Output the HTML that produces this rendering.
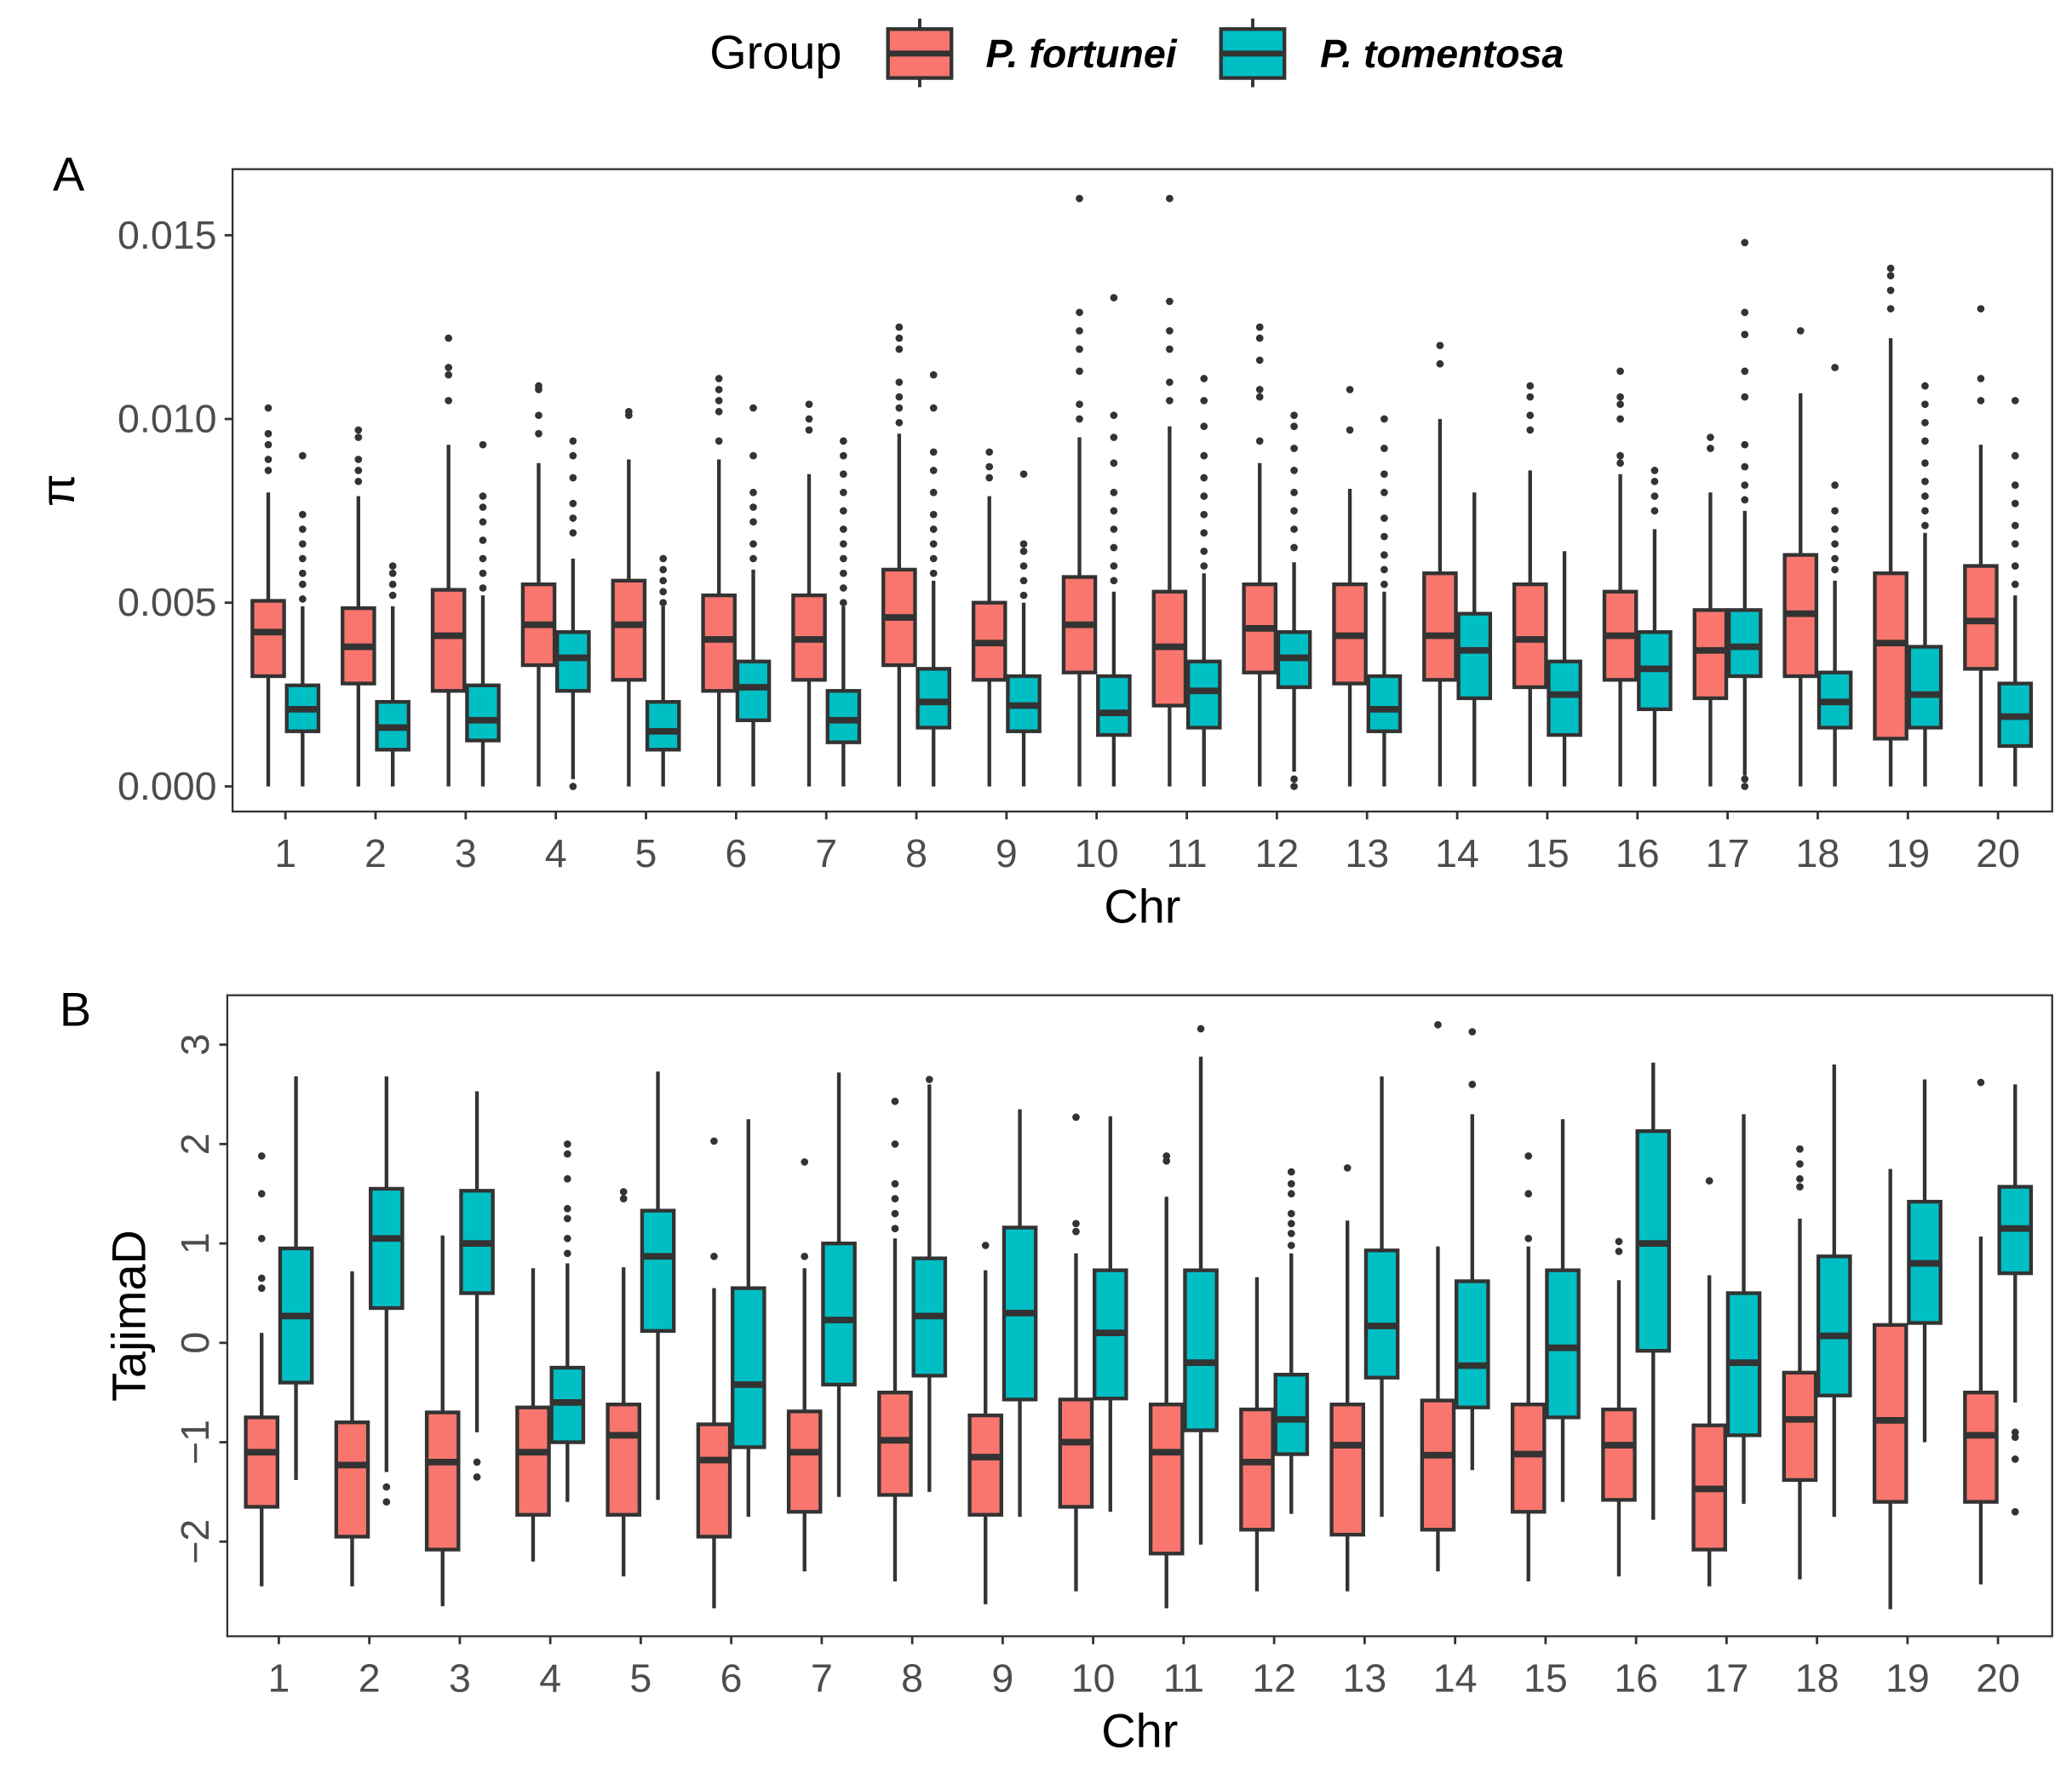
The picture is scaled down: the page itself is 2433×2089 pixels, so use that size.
<!DOCTYPE html>
<html><head><meta charset="utf-8">
<style>
html,body{margin:0;padding:0;background:#fff;}
svg{display:block;}
text{font-family:"Liberation Sans",sans-serif;}
</style></head>
<body>
<svg id="chart" width="2433" height="2089" viewBox="0 0 1568 1346" preserveAspectRatio="none" xmlns="http://www.w3.org/2000/svg">
  <g id="legend">
    <text x="537" y="52" font-size="36" fill="#000">Group</text>
    <g>
      <line x1="696" y1="14" x2="696" y2="66" stroke="#333" stroke-width="2.5"/>
      <rect x="672" y="22" width="48" height="37" fill="#F8766D" stroke="#333" stroke-width="2.8"/>
      <line x1="672" y1="40.5" x2="720" y2="40.5" stroke="#333" stroke-width="4.5"/>
      <text x="746" y="51" font-size="30" font-weight="bold" font-style="italic" fill="#000">P. fortunei</text>
    </g>
    <g>
      <line x1="948" y1="14" x2="948" y2="66" stroke="#333" stroke-width="2.5"/>
      <rect x="924" y="22" width="48" height="37" fill="#00BFC4" stroke="#333" stroke-width="2.8"/>
      <line x1="924" y1="40.5" x2="972" y2="40.5" stroke="#333" stroke-width="4.5"/>
      <text x="999" y="51" font-size="30" font-weight="bold" font-style="italic" fill="#000">P. tomentosa</text>
    </g>
  </g>
  <text x="40" y="144" font-size="36">A</text>
  <text x="45" y="776" font-size="36">B</text>
  <g id="panelA"></g>
  <g id="panelB"></g>
</svg>
<script>
// ---- Panel A data (pi x 0.001) : [q1, median, q3, lowWhisker, highWhisker]
const chrLabels = ["1","2","3","4","5","6","7","8","9","10","11","12","13","14","15","16","17","18","19","20"];
const piFortunei = [
 [3.0,4.2,5.05,0,8.0],[2.8,3.8,4.85,0,7.9],[2.6,4.1,5.35,0,9.3],[3.3,4.4,5.5,0,8.8],[2.9,4.4,5.6,0,8.9],
 [2.6,4.0,5.2,0,8.9],[2.9,4.0,5.2,0,8.5],[3.3,4.6,5.9,0,9.6],[2.9,3.9,5.0,0,7.9],[3.1,4.4,5.7,0,9.5],
 [2.2,3.8,5.3,0,9.8],[3.1,4.3,5.5,0,8.8],[2.8,4.1,5.5,0,8.1],[2.9,4.1,5.8,0,10.0],[2.7,4.0,5.5,0,8.6],
 [2.9,4.1,5.3,0,8.5],[2.4,3.7,4.8,0,8.0],[3.0,4.7,6.3,0,10.7],[1.3,3.9,5.8,0,12.2],[3.2,4.5,6.0,0,9.3]];
const piTomentosa = [
 [1.5,2.1,2.75,0,4.9],[1.0,1.6,2.3,0,4.9],[1.25,1.8,2.75,0,5.2],[2.6,3.5,4.2,0.2,6.2],[1.0,1.5,2.3,0,4.9],
 [1.8,2.7,3.4,0,5.9],[1.2,1.8,2.6,0,4.9],[1.6,2.3,3.2,0,5.6],[1.5,2.2,3.0,0,5.0],[1.4,2.0,3.0,0,5.3],
 [1.6,2.6,3.4,0,5.8],[2.7,3.5,4.2,0.4,6.1],[1.5,2.1,3.0,0,5.3],[2.4,3.7,4.7,0,8.0],[1.4,2.5,3.4,0,6.4],
 [2.1,3.2,4.2,0,7.0],[3.0,3.8,4.8,0.3,7.5],[1.6,2.3,3.1,0,5.6],[1.6,2.5,3.8,0,6.9],[1.1,1.9,2.8,0,5.2]];
const piOutF = [
 [8.6,8.9,9.3,9.6,10.3],[8.3,8.6,8.9,9.5,9.7],[10.5,11.2,11.4,12.2],[9.6,10.1,10.8,10.9],[10.1,10.2],
 [9.4,10.2,10.5,10.8,11.1],[9.7,10.0,10.4],[9.9,10.3,10.6,11.0,11.9,12.2,12.5],[8.4,8.7,9.1],[10.0,10.4,11.3,11.9,12.4,12.9,16.0],
 [10.5,11.0,11.9,12.4,13.2,16.0],[9.4,10.6,10.8,11.6,12.2,12.5],[9.7,10.8],[11.5,12.0],[9.7,10.1,10.6,10.9],
 [8.8,9.0,10.0,10.4,10.6,11.3],[9.2,9.5],[12.4],[13.0,13.5,13.9,14.1],[10.5,11.1,13.0]];
const piOutT = [
 [5.1,5.5,5.8,6.2,6.6,7.0,7.4,9.0],[5.2,5.5,5.8,6.0],[5.4,5.8,6.2,6.7,7.2,7.6,7.9,9.3],[0.0,6.9,7.3,7.7,8.4,9.0,9.4],[5.0,5.3,5.6,5.9,6.2],
 [6.2,6.6,7.2,7.6,8.0,9.0,10.3],[5.0,5.4,5.8,6.2,6.6,7.0,7.5,8.0,8.5,9.0,9.4],[5.8,6.2,6.6,7.0,7.4,8.0,8.6,9.1,10.3,11.2],[5.2,5.6,6.0,6.4,6.6,8.5],[5.6,6.0,6.5,7.0,7.5,8.0,8.8,9.5,10.1,13.3],
 [6.0,6.4,6.9,7.4,7.9,8.4,9.0,9.8,10.5,11.1],[0.0,0.2,6.5,7.0,7.5,8.0,8.6,9.2,9.8,10.1],[5.5,5.9,6.3,6.8,7.3,8.0,8.5,9.2,10.0],[],[],
 [7.5,7.9,8.3,8.6],[0.0,0.2,7.8,8.2,8.7,9.3,10.6,11.3,12.3,12.9,14.8],[5.9,6.2,6.6,7.0,7.5,8.2,11.4],[7.1,7.5,7.9,8.3,8.8,9.4,9.9,10.4,10.9],[5.5,6.0,6.6,7.1,7.7,8.2,9.0,10.5]];
const piTicks = [0,5,10,15];
const piTickLabels = ["0.000","0.005","0.010","0.015"];

// ---- Panel B data (TajimaD)
const tdFortunei = [
 [-1.65,-1.1,-0.75,-2.45,0.1],[-1.95,-1.23,-0.8,-2.45,0.72],[-2.08,-1.2,-0.7,-2.65,1.08],[-1.73,-1.1,-0.65,-2.2,0.75],[-1.73,-0.93,-0.62,-2.35,0.76],
 [-1.95,-1.18,-0.82,-2.67,0.55],[-1.7,-1.1,-0.69,-2.3,0.75],[-1.53,-0.98,-0.5,-2.4,1.05],[-1.73,-1.15,-0.73,-2.63,0.73],[-1.65,-1.0,-0.57,-2.5,0.9],
 [-2.12,-1.1,-0.62,-2.67,1.47],[-1.88,-1.2,-0.67,-2.5,0.66],[-1.93,-1.03,-0.62,-2.5,1.23],[-1.88,-1.13,-0.58,-2.3,0.97],[-1.7,-1.12,-0.62,-2.4,0.97],
 [-1.58,-1.03,-0.67,-2.35,0.63],[-2.08,-1.47,-0.83,-2.45,0.68],[-1.38,-0.77,-0.3,-2.38,1.25],[-1.6,-0.78,0.18,-2.68,1.75],[-1.6,-0.93,-0.5,-2.43,1.07]];
const tdTomentosa = [
 [-0.4,0.27,0.95,-1.38,2.68],[0.35,1.05,1.55,-1.3,2.68],[0.5,1.0,1.53,-0.9,2.53],[-1.0,-0.6,-0.25,-1.6,0.8],[0.12,0.87,1.33,-1.58,2.73],
 [-1.05,-0.42,0.55,-1.75,2.25],[-0.42,0.23,1.0,-1.55,2.72],[-0.33,0.27,0.85,-1.5,2.6],[-0.57,0.3,1.16,-1.75,2.35],[-0.56,0.1,0.73,-1.7,2.28],
 [-0.88,-0.2,0.73,-2.03,2.88],[-1.12,-0.77,-0.32,-1.72,0.9],[-0.35,0.17,0.93,-1.75,2.68],[-0.65,-0.23,0.62,-1.28,2.3],[-0.75,-0.05,0.73,-1.6,2.25],
 [-0.08,1.0,2.13,-1.78,2.82],[-0.93,-0.2,0.5,-1.62,2.3],[-0.53,0.07,0.87,-1.75,2.8],[0.2,0.8,1.42,-1.0,2.65],[0.7,1.15,1.57,-0.6,2.6]];
const tdOutF = [
 [0.55,0.65,1.05,1.5,1.88],[],[],[],[1.45,1.52],[0.87,2.03],[0.87,1.82],[1.15,1.3,1.45,1.6,2.0,2.43],[0.98],[1.12,1.2,2.27],
 [1.83,1.88],[],[1.76],[3.2],[1.05,1.5,1.88],[0.92,1.02],[1.63],[1.57,1.65,1.8,1.95],[],[2.62]];
const tdOutT = [
 [],[-1.45,-1.6],[-1.2,-1.35],[0.9,1.05,1.25,1.35,1.65,1.9,2.0],[],[],[],[2.65],[],[],
 [3.16],[0.98,1.1,1.2,1.3,1.5,1.6,1.72],[],[2.6,3.13],[],[],[],[],[],[-0.9,-0.95,-1.17,-1.7]];
const tdTicks = [-2,-1,0,1,2,3];
const tdTickLabels = ["\u22122","\u22121","0","1","2","3"];

const NS = "http://www.w3.org/2000/svg";
const RED = "#F8766D", TEAL = "#00BFC4", LINE = "#333333";
function mk(parent, tag, attrs){ const e=document.createElementNS(NS,tag); for(const k in attrs) e.setAttribute(k,attrs[k]); parent.appendChild(e); return e; }

function drawPanel(g, cfg){
  const {L,T,R,B,x1,x20,yFn,fort,tom,outF,outT,ticks,tickLabels,rotateTicks,ylab,ylabX,ylabSize,xlabY} = cfg;
  const xs = i => x1 + (x20-x1)*i/19;
  const frame = mk(g,'rect',{x:L,y:T,width:R-L,height:B-T,fill:'none',stroke:'#333',"stroke-width":1.5});
  
  
  ticks.forEach((v,i)=>{
    const y=yFn(v);
    const tk=mk(g,'line',{x1:L-6,y1:y,x2:L,y2:y,stroke:'#333',"stroke-width":1.8});
    
    
    let t;
    if(rotateTicks){
      t=mk(g,'text',{x:0,y:0,transform:`translate(${L-14},${y}) rotate(-90)`,"text-anchor":"middle","font-size":30,fill:'#4d4d4d'});
    } else {
      t=mk(g,'text',{x:L-12,y:y+10,"text-anchor":"end","font-size":30,fill:'#4d4d4d'});
    }
    t.textContent=tickLabels[i];
    
    
  });
  chrLabels.forEach((c,i)=>{
    const x=xs(i);
    const tk=mk(g,'line',{x1:x,y1:B,x2:x,y2:B+6,stroke:'#333',"stroke-width":1.8});
    
    
    const t=mk(g,'text',{x:x,y:B+42,"text-anchor":"middle","font-size":30,fill:'#4d4d4d'});
    t.textContent=c;
    
    
  });
  const xl=mk(g,'text',{x:(L+R)/2,y:xlabY,"text-anchor":"middle","font-size":36,fill:'#000'});
  xl.textContent='Chr';
  
  
  const yl=mk(g,'text',{x:0,y:0,transform:`translate(${ylabX},${(T+B)/2}) rotate(-90)`,"text-anchor":"middle","font-size":ylabSize,fill:'#000'});
  yl.textContent=ylab;
  
  
  const bw=24, off=13;
  function box(cx,d,out,col,name){
    const bg=mk(g,'g',{});
    
    
    const [q1,med,q3,lo,hi]=d;
    mk(bg,'line',{x1:cx,y1:yFn(hi),x2:cx,y2:yFn(q3),stroke:LINE,"stroke-width":2.8});
    mk(bg,'line',{x1:cx,y1:yFn(q1),x2:cx,y2:yFn(lo),stroke:LINE,"stroke-width":2.8});
    mk(bg,'rect',{x:cx-bw/2,y:yFn(q3),width:bw,height:yFn(q1)-yFn(q3),fill:col,stroke:LINE,"stroke-width":2.8});
    mk(bg,'line',{x1:cx-bw/2,y1:yFn(med),x2:cx+bw/2,y2:yFn(med),stroke:LINE,"stroke-width":5});
    out.forEach(v=>{
      const p=mk(bg,'circle',{cx:cx,cy:yFn(v),r:2.8,fill:LINE});
      
      
    });
  }
  for(let i=0;i<20;i++){
    box(xs(i)-off,fort[i],outF[i],RED,'box-fortunei-chr'+chrLabels[i]);
    box(xs(i)+off,tom[i],outT[i],TEAL,'box-tomentosa-chr'+chrLabels[i]);
  }
}

drawPanel(document.getElementById('panelA'),{
  L:176,T:128,R:1553,B:614,x1:216,x20:1512,
  yFn:v=>595-v*27.8,
  fort:piFortunei,tom:piTomentosa,outF:piOutF,outT:piOutT,
  ticks:piTicks,tickLabels:piTickLabels,rotateTicks:false,
  ylab:'π',ylabX:56,ylabSize:36,xlabY:698
});
drawPanel(document.getElementById('panelB'),{
  L:172,T:753,R:1553,B:1238,x1:211,x20:1512,
  yFn:v=>1016-v*75.2,
  fort:tdFortunei,tom:tdTomentosa,outF:tdOutF,outT:tdOutT,
  ticks:tdTicks,tickLabels:tdTickLabels,rotateTicks:true,
  ylab:'TajimaD',ylabX:110,ylabSize:36,xlabY:1322
});
</script>
</body></html>
